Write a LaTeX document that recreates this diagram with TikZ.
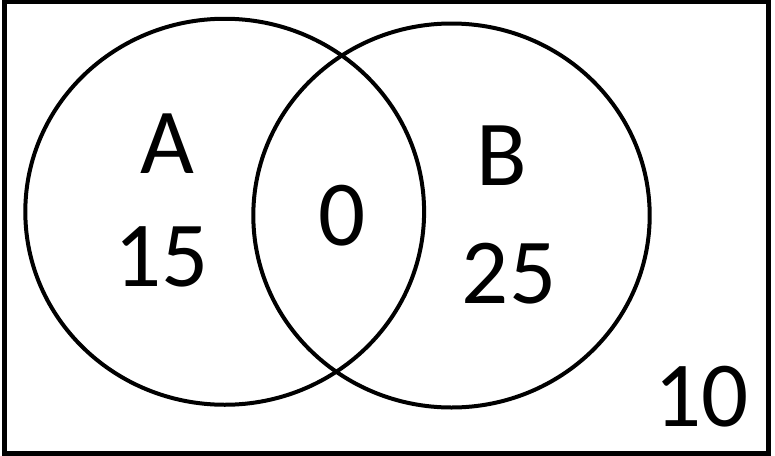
\documentclass[tikz,border=0pt]{standalone}
\usepackage{fontspec}
\setmainfont{Carlito}
\begin{document}
\begin{tikzpicture}[x=1pt,y=-1pt,
  setline/.style={draw=black,line width=4pt},
  frameline/.style={draw=black,line width=4.5pt},
  lbl/.style={anchor=base,inner sep=0pt,font=\fontsize{93}{100}\selectfont}]
\useasboundingbox (0,0) rectangle (775,455);
\draw[frameline] (4.3,2.2) rectangle (768.7,453.3);
\draw[setline] (224.7,211.75) ellipse [x radius=199.4pt, y radius=193pt];
\draw[setline] (451.5,215.5) ellipse [x radius=198.2pt, y radius=192pt];
\node[lbl] (A) at (167.5,173.3) {A};
\node[lbl] (a15) at (161.5,286.7) {15};
\node[lbl] (ab0) at (341.7,245) {0};
\node[lbl] (B) at (501.7,185) {B};
\node[lbl] (b25) at (509,303.3) {25};
\node[lbl] (u10) at (701.7,426.7) {10};
\end{tikzpicture}
\end{document}
